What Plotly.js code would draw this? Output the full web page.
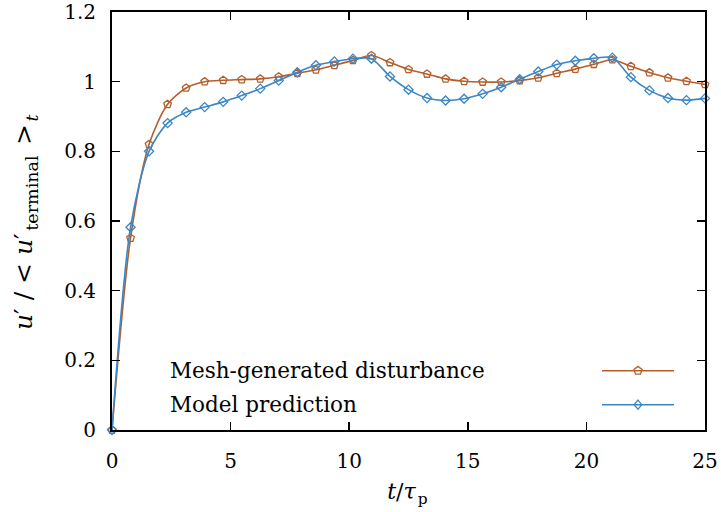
<!DOCTYPE html>
<html>
<head>
<meta charset="utf-8">
<script src="https://cdn.plot.ly/plotly-3.0.1.min.js"></script>
<style>html,body{margin:0;padding:0;background:#fff;}#chart{width:721px;height:512px;}</style>
</head>
<body>
<div id="chart"></div>
<script>
// time in units of tau_p (marker samples)
const t = [0, 0.78125, 1.5625, 2.34375, 3.125, 3.90625, 4.6875, 5.46875, 6.25, 7.03125, 7.8125,
  8.59375, 9.375, 10.15625, 10.9375, 11.71875, 12.5, 13.28125, 14.0625, 14.84375, 15.625,
  16.40625, 17.1875, 17.96875, 18.75, 19.53125, 20.3125, 21.09375, 21.875, 22.65625, 23.4375,
  24.21875, 25];
const meshDisturbance = [0, 0.551, 0.820, 0.935, 0.982, 1.000, 1.004, 1.006, 1.008, 1.014, 1.024,
  1.034, 1.047, 1.061, 1.075, 1.055, 1.035, 1.022, 1.008, 1.001, 0.999,
  0.999, 1.003, 1.011, 1.024, 1.036, 1.050, 1.063, 1.044, 1.026, 1.011,
  1.001, 0.992];
const modelPrediction = [0, 0.582, 0.800, 0.881, 0.912, 0.927, 0.942, 0.960, 0.980, 1.003, 1.027,
  1.047, 1.058, 1.066, 1.066, 1.015, 0.977, 0.953, 0.946, 0.951, 0.965,
  0.984, 1.007, 1.029, 1.049, 1.060, 1.067, 1.069, 1.013, 0.975, 0.953,
  0.947, 0.952];
const seriesNames = ["Mesh-generated disturbance", "Model prediction"];
const xTicks = [0, 5, 10, 15, 20, 25];
const yTicks = [0, 0.2, 0.4, 0.6, 0.8, 1, 1.2];

const orange = "#b45f2b";
const blue = "#3a86c6";
const font = "DejaVu Serif";

const traces = [
  {x: t, y: meshDisturbance, name: seriesNames[0], type: "scatter", mode: "lines+markers",
   line: {color: orange, width: 1.6, shape: "spline", smoothing: 0.8},
   marker: {symbol: "pentagon-open", size: 8, color: orange, line: {width: 1.3, color: orange}},
   cliponaxis: false, showlegend: false},
  {x: t, y: modelPrediction, name: seriesNames[1], type: "scatter", mode: "lines+markers",
   line: {color: blue, width: 1.6, shape: "spline", smoothing: 0.8},
   marker: {symbol: "diamond-open", size: 7, color: blue, line: {width: 1.3, color: blue}},
   cliponaxis: false, showlegend: false}
];

const axisCommon = {
  showgrid: false, zeroline: false, showline: true, linecolor: "#000", linewidth: 2,
  mirror: "allticks", ticks: "inside", ticklen: 8, tickwidth: 1.6, tickcolor: "#000",
  tickfont: {family: font, size: 20, color: "#000"}
};

// legend key geometry (paper fractions)
const keyX0 = 0.8263, keyX1 = 0.9477, keyXc = 0.887;
const keyY = [0.1419, 0.0605];

const layout = {
  width: 721, height: 512,
  margin: {l: 112, r: 16, t: 12, b: 82},
  paper_bgcolor: "#fff", plot_bgcolor: "#fff",
  font: {family: font, color: "#000"},
  xaxis: Object.assign({}, axisCommon, {
    range: [0, 25], tickvals: xTicks, ticklabelstandoff: 12,
    title: {text: "<i>t</i>/<i>τ</i><sub>p</sub>", font: {family: font, size: 22, color: "#000"}, standoff: 12}
  }),
  yaxis: Object.assign({}, axisCommon, {
    range: [0, 1.2], tickvals: yTicks, ticklabelstandoff: 10,
    title: {text: "<i>u</i>′ / &lt; <i>u</i>′<sub>terminal</sub> &gt;<sub><i>t</i></sub>",
            font: {family: font, size: 25, color: "#000"}, standoff: 24}
  }),
  showlegend: false,
  shapes: [
    {type: "line", xref: "paper", yref: "paper", x0: keyX0, x1: keyX1, y0: keyY[0], y1: keyY[0],
     line: {color: orange, width: 1.6}},
    {type: "line", xref: "paper", yref: "paper", x0: keyX0, x1: keyX1, y0: keyY[1], y1: keyY[1],
     line: {color: blue, width: 1.6}},
    {type: "path", xref: "paper", yref: "paper", xsizemode: "pixel", ysizemode: "pixel",
     xanchor: keyXc, yanchor: keyY[0],
     path: "M0,4.3 L4.1,1.3 L2.5,-3.5 L-2.5,-3.5 L-4.1,1.3 Z",
     fillcolor: "rgba(255,255,255,0)", line: {color: orange, width: 1.3}},
    {type: "path", xref: "paper", yref: "paper", xsizemode: "pixel", ysizemode: "pixel",
     xanchor: keyXc, yanchor: keyY[1],
     path: "M0,4.6 L3.8,0 L0,-4.6 L-3.8,0 Z",
     fillcolor: "rgba(255,255,255,0)", line: {color: blue, width: 1.3}}
  ],
  annotations: [
    {text: seriesNames[0], xref: "paper", yref: "paper", x: 0.094, y: keyY[0], xanchor: "left", yanchor: "middle",
     showarrow: false, font: {family: font, size: 21.5, color: "#000"}},
    {text: seriesNames[1], xref: "paper", yref: "paper", x: 0.094, y: keyY[1], xanchor: "left", yanchor: "middle",
     showarrow: false, font: {family: font, size: 21.5, color: "#000"}}
  ]
};

Plotly.newPlot("chart", traces, layout, {displayModeBar: false, staticPlot: true}).then(function (gd) {
  // Plotly pads subscripts with zero-width-space text; swap those for a hair space so they have a size
  const walker = document.createTreeWalker(gd, NodeFilter.SHOW_TEXT, null);
  const zw = [];
  while (walker.nextNode()) {
    const n = walker.currentNode;
    if (n.nodeValue.length && n.nodeValue.replace(/[\u200b\s]/g, "") === "" && /\u200b/.test(n.nodeValue)) zw.push(n);
  }
  zw.forEach(function (n) { n.nodeValue = "\u200a"; });
  gd.querySelectorAll("text").forEach(function (el) {
    if (!el.textContent || !el.textContent.trim()) el.parentNode.removeChild(el);
  });
});
</script>
</body>
</html>
